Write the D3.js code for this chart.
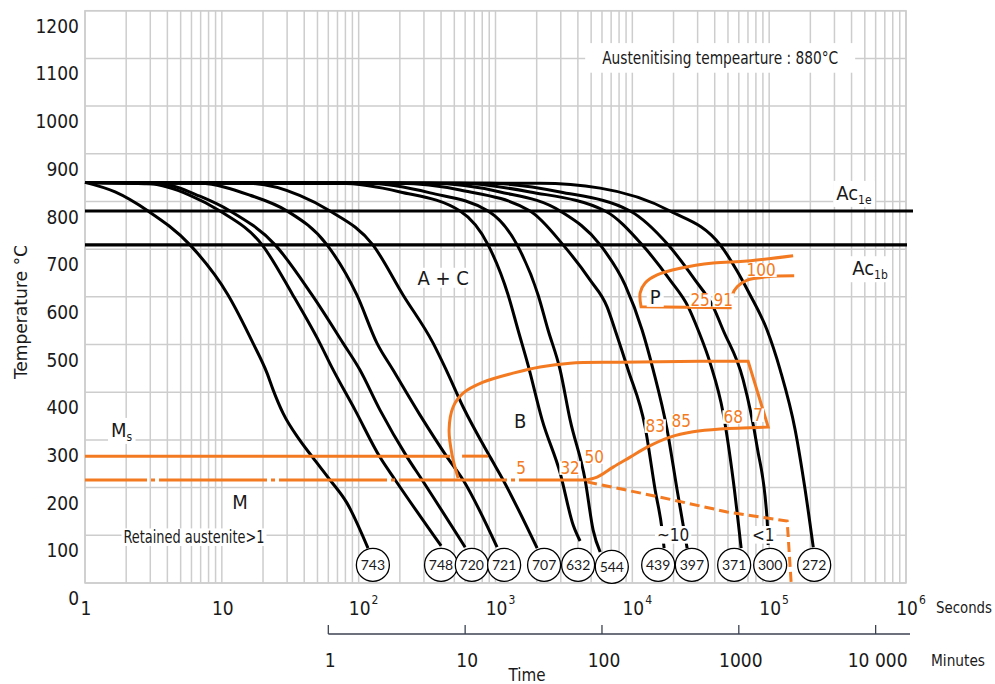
<!DOCTYPE html>
<html lang="en">
<head>
<meta charset="UTF-8">
<title>CCT diagram</title>
<script src="https://d3js.org/d3.v7.min.js"></script>
<style>
  body { margin: 0; background: #fff; }
  svg { display: block; }
  text { font-family: "Liberation Sans Narrow", "DejaVu Sans Condensed", "Roboto", sans-serif; fill: #1a1a1a; }
  .grid line, .frame { stroke: #cdcdcd; stroke-width: 1.5; fill: none; }
  .curve { fill: none; stroke: #000; stroke-width: 3; }
  .ac { stroke: #000; stroke-width: 3.2; }
  .orange { fill: none; stroke: #f37a21; stroke-width: 3; }
  .tick-label { font-size: 19px; }
  .axis-title { font-size: 18px; }
  .phase { font-size: 20px; }
  .pct { font-size: 17px; fill: #f37a21; }
  .note { font-size: 17px; }
  .hv circle { fill: #fff; stroke: #000; stroke-width: 1.3; }
  .hv text { font-family: Lato, sans-serif; font-size: 14px; }
  .minutes line { stroke: #3b4252; stroke-width: 1.3; }
</style>
</head>
<body>
<script>
const width = 995, height = 684;

// axes
const timeTicks = [1, 1e1, 1e2, 1e3, 1e4, 1e5, 1e6];
const tempTicks = [0, 100, 200, 300, 400, 500, 600, 700, 800, 900, 1000, 1100, 1200];
const minuteTicks = [1, 10, 100, 1000, 10000];
const minuteLabels = ["1", "10", "100", "1000", "10 000"];

// critical temperatures (°C)
const ac1e = 780, ac1b = 709;
const msTemp = 266, msEnd = 466, msDash = [570, 883];
const mLineTemp = 216, mLineEnd = 4520;

// cooling curves [seconds, °C]
const c743 = [[1,840],[1.66,820],[2.89,780],[5.85,709],[11.1,604],[16.9,503],[21.4,440],[23.7,405],[28,356],[37,300],[46,264],[61.8,216],[82,168],[117,73]];
const c748 = [[1,840],[3,837],[5.85,813],[9.7,780],[19.7,709],[33,604],[52,503],[64,451],[94,363],[143,264],[185,216],[400,78]];
const c720 = [[1,840],[3.53,837],[6.9,811],[11.5,780],[24.5,709],[45.6,604],[76.9,503],[102,447],[143,363],[226,264],[291,216],[600,75]];
const c721 = [[1,840],[6.9,838],[16.1,813],[30,780],[58.7,709],[97,604],[136,503],[178,447],[281,352],[443,264],[580,216],[1027,75]];
const c707 = [[1,840],[16.1,838],[37,813],[61.8,780],[127,709],[211,604],[350,503],[436,447],[580,369],[914,264],[1137,216],[2015,73]];
const c632 = [[1,840],[73,838],[201,820],[551,780],[883,709],[1237,604],[1463,530],[1730,457],[2192,342],[2966,231],[3690,122],[4150,88]];
const c544 = [[1,840],[121,838],[333,818],[883,780],[1439,709],[2048,604],[2425,530],[2966,447],[3510,342],[4520,216],[5170,111],[5820,65]];
const c439 = [[1,840],[201,838],[551,824],[1790,780],[3120,709],[4920,635],[6540,579],[7490,530],[9310,447],[12400,327],[14680,195],[16510,111],[17070,73]];
const c397 = [[1,840],[333,838],[1081,820],[2966,780],[5820,709],[8850,625],[11800,530],[14200,447],[17970,321],[21250,195],[25150,73]];
const c371 = [[1,840],[551,838],[1790,820],[6330,780],[11800,709],[18880,635],[25590,579],[30300,530],[37060,461],[46130,356],[54580,216],[62400,73]];
const c300 = [[1,840],[914,838],[2966,820],[9640,780],[18270,709],[28780,635],[38980,579],[46130,530],[64570,426],[81700,285],[96650,132],[98400,80]];
const c272 = [[1,840],[2118,838],[5820,828],[18880,780],[43850,709],[72610,604],[96650,530],[120300,447],[154900,321],[183300,195],[210000,75]];
const coolingCurves = [c743, c748, c720, c721, c707, c632, c544, c439, c397, c371, c300, c272];

// hardness HV at curve ends
const hardness = [743, 748, 720, 721, 707, 632, 544, 439, 397, 371, 300, 272];
const hardnessTime = [127, 400, 671, 1156, 2265, 4015, 7080, 15450, 27220, 55480, 101700, 213300];
const hardnessTemp = [38, 38, 38, 38, 38, 38, 34, 38, 38, 38, 38, 38];

// bainite field
const bUpper = [[533,220],[482,268],[458,321],[490,369],[580,398],[812,421],[1345,440],[2118,453],[3510,461],[8150,463],[31300,465],[70200,465]];
const bLower = [[98400,327],[43850,323],[27800,317],[18880,306],[12830,285],[9640,264],[7240,243],[5530,222],[4520,216]];
const bFinish = [[4670,212],[15970,180],[49300,149],[135400,130],[144800,0]];

// pearlite field
const pUpper = [[149700,686],[69030,675],[38980,671],[22350,660],[15180,646],[12400,629],[11400,608],[11590,579]];
const pLower = [[51870,577],[53700,604],[58360,621],[69030,635],[96650,642],[152400,644]];

// annotations
const phaseLabels = ["A + C", "P", "B", "M"];
const phaseTime = [414, 14680, 1514, 13.6];
const phaseTemp = [640, 600, 340, 170];

const pctLabels = ["5", "32", "50", "83", "85", "68", "7", "25", "91", "100"];
const pctTime = [1538, 3510, 5260, 14680, 22740, 54580, 83100, 31300, 46130, 87400];
const pctTemp = [241, 241, 264, 329, 340, 348, 352, 593, 593, 656];

const noteLabels = ["~10", "<1", "Retained austenite>1", "Austenitising tempearture : 880°C"];
const noteTime = [19870, 90400, 6.26, 43850];
const noteTemp = [101, 101, 96, 1101];

const x = d3.scaleLog().domain([1, 1e6]).range([85, 906]);
const y = d3.scaleLinear().domain([0, 1200]).range([583, 10.7]);
const xm = d3.scaleLog().domain([1 / 60, 1e6 / 60]).range(x.range());

const svg = d3.select("body").append("svg")
    .attr("width", width)
    .attr("height", height);

// squeeze a text to a given width (the original uses a narrow DIN-like face)
function fitWidth(sel, w) {
    sel.attr("textLength", w).attr("lengthAdjust", "spacingAndGlyphs");
}

// grid
const grid = svg.append("g").attr("class", "grid");
grid.selectAll(".gv").data(x.ticks()).join("line")
    .attr("x1", d => x(d)).attr("x2", d => x(d))
    .attr("y1", y(0)).attr("y2", y(1200));
grid.selectAll(".gh").data(tempTicks).join("line")
    .attr("x1", x(1)).attr("x2", x(1e6))
    .attr("y1", d => y(d)).attr("y2", d => y(d));
svg.append("rect").attr("class", "frame")
    .attr("x", x(1)).attr("y", y(1200))
    .attr("width", x(1e6) - x(1)).attr("height", y(0) - y(1200));

// y axis labels (sit a bit below their grid lines, as in the original)
svg.append("g")
    .attr("transform", `translate(${x(1)},0)`)
    .call(d3.axisLeft(y).tickValues(tempTicks).tickFormat(d3.format("d")).tickSize(0).tickPadding(6))
    .call(g => g.select(".domain").remove())
    .attr("font-size", null).attr("font-family", null)
    .selectAll("text")
    .attr("class", "tick-label")
    .attr("y", 15.5);

// x axis (seconds)
const xl = svg.append("g");
timeTicks.forEach((t, i) => {
    const base = xl.append("text").attr("class", "tick-label")
        .attr("x", x(t) + 1).attr("y", 608)
        .attr("text-anchor", "middle").attr("dominant-baseline", "central")
        .text(i < 2 ? String(t) : "10");
    if (i >= 2) {
        const w = base.node().getComputedTextLength();
        xl.append("text").attr("font-size", "12px")
            .attr("x", x(t) + 1 + w / 2 + 1).attr("y", 600)
            .attr("dominant-baseline", "central")
            .text(String(i));
    }
});
svg.append("text").attr("class", "axis-title")
    .attr("x", 936).attr("y", 608).style("font-size", "15px")
    .attr("dominant-baseline", "central").text("Seconds")
    .call(fitWidth, 56);

// minutes axis
const mg = svg.append("g").attr("class", "minutes");
mg.append("line").attr("x1", xm(1)).attr("x2", x.range()[1] + 4).attr("y1", 634).attr("y2", 634);
mg.selectAll(".mt").data(minuteTicks).join("line")
    .attr("x1", d => xm(d)).attr("x2", d => xm(d)).attr("y1", 625).attr("y2", 634);
mg.selectAll("text").data(minuteTicks).join("text")
    .attr("class", "tick-label")
    .attr("x", d => xm(d) + 2).attr("y", 660)
    .attr("text-anchor", "middle").attr("dominant-baseline", "central")
    .text((d, i) => minuteLabels[i]);
svg.append("text").attr("class", "axis-title")
    .attr("x", 931).attr("y", 660).style("font-size", "16px")
    .attr("dominant-baseline", "central").text("Minutes")
    .call(fitWidth, 54);
svg.append("text").attr("class", "axis-title")
    .attr("x", 527).attr("y", 681).style("font-size", "17px")
    .attr("text-anchor", "middle").text("Time")
    .call(fitWidth, 37);
svg.append("text").attr("class", "axis-title")
    .attr("transform", "translate(20,312) rotate(-90)")
    .attr("text-anchor", "middle").attr("dominant-baseline", "central")
    .text("Temperature °C")
    .call(fitWidth, 134);

// Ac lines
svg.append("line").attr("class", "ac")
    .attr("x1", x(1)).attr("x2", x(1e6) + 7).attr("y1", y(ac1e)).attr("y2", y(ac1e));
svg.append("line").attr("class", "ac")
    .attr("x1", x(1)).attr("x2", x(1e6) + 1).attr("y1", y(ac1b)).attr("y2", y(ac1b));

// cooling curves
const line = d3.line().x(d => x(d[0])).y(d => y(d[1])).curve(d3.curveMonotoneX);
const lineCR = d3.line().x(d => x(d[0])).y(d => y(d[1])).curve(d3.curveCatmullRom.alpha(0.5));
const lineL = d3.line().x(d => x(d[0])).y(d => y(d[1]));

svg.append("g").selectAll("path").data(coolingCurves).join("path")
    .attr("class", "curve").attr("d", line);

// transformation lines
const og = svg.append("g");
og.append("path").attr("class", "orange").attr("d", lineL([[1, msTemp], [msEnd, msTemp]]));
og.append("path").attr("class", "orange").attr("d", lineL([[msDash[0], msTemp], [msDash[1], msTemp]]));
og.append("path").attr("class", "orange")
    .attr("stroke-dasharray", "108 4 4 4").attr("stroke-dashoffset", 46)
    .attr("d", lineL([[1, mLineTemp], [mLineEnd, mLineTemp]]));
og.append("path").attr("class", "orange")
    .attr("d", lineCR(bUpper) + lineCR(bLower).replace("M", "L"));
og.append("path").attr("class", "orange").attr("stroke-dasharray", "10 5")
    .attr("d", lineL(bFinish));
og.append("path").attr("class", "orange")
    .attr("d", lineCR(pUpper) + lineCR(pLower).replace("M", "L"));

// labels with white boxes
function boxed(parent, t, T, str, cls, fs, padX, padY, w) {
    const g = parent.append("g");
    const r = g.append("rect").attr("fill", "#fff");
    const txt = g.append("text").attr("class", cls)
        .attr("x", x(t)).attr("y", y(T))
        .attr("text-anchor", "middle").attr("dominant-baseline", "central")
        .text(str);
    if (w) txt.call(fitWidth, w);
    const b = txt.node().getBBox();
    r.attr("x", b.x - padX).attr("width", b.width + 2 * padX)
        .attr("y", y(T) - fs * 0.4 - padY).attr("height", fs * 0.8 + 2 * padY);
    return g;
}
const lg = svg.append("g");
phaseLabels.forEach((s, i) => boxed(lg, phaseTime[i], phaseTemp[i], s, "phase", 20, 3, 2));
pctLabels.forEach((s, i) => boxed(lg, pctTime[i], pctTemp[i], s, "pct", 17, 1, 0));
boxed(lg, noteTime[0], noteTemp[0], noteLabels[0], "note", 17, 2, 2);
boxed(lg, noteTime[1], noteTemp[1], noteLabels[1], "note", 17, 2, 2);
boxed(lg, noteTime[2], noteTemp[2], noteLabels[2], "note", 17, 2, 2, 141);
boxed(lg, noteTime[3], noteTemp[3], noteLabels[3], "note", 17, 17, 8, 236);

// subscripted labels
function subLabel(t, T, main, sub) {
    const g = lg.append("g");
    const r = g.append("rect").attr("fill", "#fff");
    const txt = g.append("text").attr("class", "phase")
        .attr("x", x(t)).attr("y", y(T)).attr("dominant-baseline", "central");
    txt.append("tspan").text(main);
    txt.append("tspan").attr("font-size", "12px").attr("dy", 7).text(sub);
    const b = txt.node().getBBox();
    r.attr("x", b.x - 3).attr("y", b.y).attr("width", b.width + 6).attr("height", b.height);
}
subLabel(1.55, 321, "M", "s");
subLabel(309000, 818, "Ac", "1e");
subLabel(404600, 660, "Ac", "1b");

// hardness circles
const hv = svg.append("g").attr("class", "hv")
    .selectAll("g").data(hardness).join("g")
    .attr("transform", (d, i) => `translate(${x(hardnessTime[i])},${y(hardnessTemp[i])})`);
hv.append("circle").attr("r", 16.5);
hv.append("text").attr("text-anchor", "middle").attr("dominant-baseline", "central").text(d => d);
</script>
</body>
</html>
